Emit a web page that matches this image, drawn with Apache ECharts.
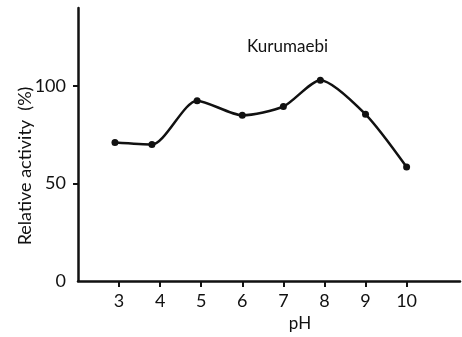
<!DOCTYPE html>
<html>
<head>
<meta charset="utf-8">
<script src="https://cdn.jsdelivr.net/npm/echarts@6/dist/echarts.min.js"></script>
<style>
  html, body { margin: 0; padding: 0; background: #fff; }
  #chart { width: 462px; height: 337px; }
</style>
</head>
<body>
<div id="chart"></div>
<script>
// values
const phValues = [2.9, 3.8, 4.9, 6.0, 7.0, 7.9, 9.0, 10.0]
const activity = [71, 70, 92.5, 85, 89.5, 103, 85.5, 58.5]
const xTicks = [3, 4, 5, 6, 7, 8, 9, 10]
const yTicks = [0, 50, 100]

const font = 'Lato'
let myChart = echarts.init(document.getElementById('chart'))

const option = {
  animation: false,
  backgroundColor: '#fff',
  title: {
    text: 'Kurumaebi',
    left: 242,
    top: 33,
    textStyle: { fontFamily: font, fontSize: 17, fontWeight: 'normal', color: '#111' }
  },
  // y axis title, placed a bit below the axis middle like in the scan
  graphic: [
    {
      type: 'text',
      x: 25,
      y: 166,
      rotation: Math.PI / 2,
      style: {
        text: 'Relative activity  (%)',
        font: '18px Lato',
        fill: '#111',
        align: 'center',
        verticalAlign: 'middle'
      }
    }
  ],
  grid: { left: 78, right: 2, top: 8, bottom: 47 },
  xAxis: {
    type: 'value',
    min: 2,
    max: 11.3,
    name: 'pH',
    nameLocation: 'middle',
    nameGap: 30,
    nameTextStyle: { fontFamily: font, fontSize: 17, color: '#111', padding: [0, 0, 0, 62] },
    splitLine: { show: false },
    axisLine: { lineStyle: { color: '#111', width: 2.5 } },
    axisTick: { customValues: xTicks, length: 6, lineStyle: { color: '#111', width: 2 } },
    axisLabel: { customValues: xTicks, fontFamily: font, fontSize: 18, color: '#111', margin: 11 }
  },
  yAxis: {
    type: 'value',
    min: 0,
    max: 140,
    splitLine: { show: false },
    axisLine: { show: true, lineStyle: { color: '#111', width: 2.5 } },
    axisTick: { customValues: [50, 100], length: 5, lineStyle: { color: '#111', width: 2 } },
    axisLabel: { customValues: yTicks, fontFamily: font, fontSize: 18, color: '#111', margin: 12 }
  },
  series: [
    {
      type: 'line',
      data: phValues.map((p, i) => [p, activity[i]]),
      smooth: 0.25,
      symbol: 'circle',
      symbolSize: 7,
      itemStyle: { color: '#111' },
      lineStyle: { color: '#111', width: 2.5 }
    }
  ]
}

myChart.setOption(option)
</script>
</body>
</html>
